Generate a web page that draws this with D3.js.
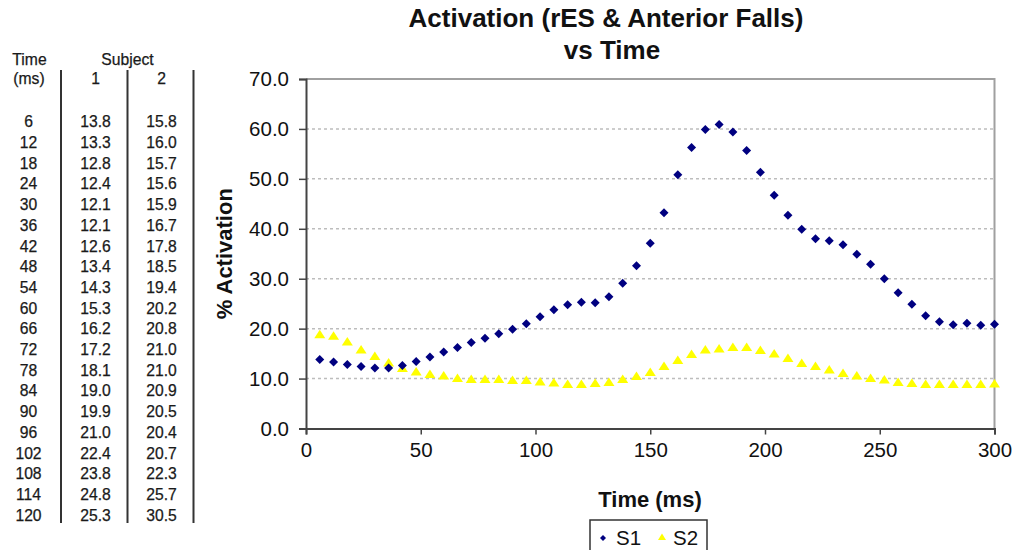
<!DOCTYPE html>
<html>
<head>
<meta charset="utf-8">
<script src="https://cdn.jsdelivr.net/npm/d3@7"></script>
<style>
  body { margin: 0; background: #fff; }
  svg text { font-family: "Liberation Sans", Arial, sans-serif; fill: #111; }
  .title { font-weight: bold; font-size: 26px; }
  .unit { font-weight: bold; font-size: 22px; }
  .tick text { font-size: 20.5px; }
  .tbl { font-size: 15.7px; fill: #1a1a1a; stroke: #1a1a1a; stroke-width: 0.25px; }
</style>
</head>
<body>
<div id="svg-container"></div>
<script>
////////////////////////////////////////////////////////////////////
////////////////////////////  Data  ////////////////////////////////
// time in ms, one sample every 6 ms
const time = d3.range(6, 301, 6);

const s1 = [13.8, 13.3, 12.8, 12.4, 12.1, 12.1, 12.6, 13.4, 14.3, 15.3,
  16.2, 17.2, 18.1, 19.0, 19.9, 21.0, 22.4, 23.8, 24.8, 25.3,
  25.2, 26.4, 29.1, 32.6, 37.1, 43.2, 50.8, 56.3, 59.9, 60.9,
  59.4, 55.7, 51.3, 46.7, 42.7, 39.9, 38.0, 37.6, 36.8, 34.9,
  32.9, 30.0, 27.2, 24.9, 22.6, 21.4, 20.8, 21.1, 20.7, 20.9];

const s2 = [18.9, 18.6, 17.4, 15.8, 14.5, 13.2, 12.1, 11.4, 10.9, 10.6,
  10.1, 9.9, 9.9, 9.9, 9.7, 9.7, 9.4, 9.2, 8.9, 8.9,
  9.1, 9.3, 9.9, 10.5, 11.3, 12.5, 13.7, 14.9, 15.8, 16.0,
  16.3, 16.3, 15.7, 15.0, 14.1, 13.1, 12.5, 11.8, 11.1, 10.6,
  10.1, 9.8, 9.3, 9.1, 8.9, 8.9, 8.9, 8.9, 8.9, 9.0];

// side table
const tableTime = [6, 12, 18, 24, 30, 36, 42, 48, 54, 60, 66, 72, 78, 84, 90, 96, 102, 108, 114, 120];
const tableSubj1 = ["13.8", "13.3", "12.8", "12.4", "12.1", "12.1", "12.6", "13.4", "14.3", "15.3",
  "16.2", "17.2", "18.1", "19.0", "19.9", "21.0", "22.4", "23.8", "24.8", "25.3"];
const tableSubj2 = ["15.8", "16.0", "15.7", "15.6", "15.9", "16.7", "17.8", "18.5", "19.4", "20.2",
  "20.8", "21.0", "21.0", "20.9", "20.5", "20.4", "20.7", "22.3", "25.7", "30.5"];

const xTicks = [0, 50, 100, 150, 200, 250, 300];
const yTicks = [0, 10, 20, 30, 40, 50, 60, 70];

////////////////////////////////////////////////////////////////////
////////////////////////////  Init  ////////////////////////////////
const width = 1015;
const height = 550;

const svg = d3.select("#svg-container").append("svg")
  .attr("width", width)
  .attr("height", height);

const plot = { left: 306, right: 994.5, top: 79, bottom: 428.5 };

const xScale = d3.scaleLinear().domain([0, 300]).range([plot.left, plot.right]);
const yScale = d3.scaleLinear().domain([0, 70]).range([plot.bottom, plot.top]);

// grid
svg.append("g")
  .selectAll("line")
  .data(yTicks.filter((d) => d > 0 && d < 70))
  .enter()
  .append("line")
  .attr("x1", plot.left)
  .attr("x2", plot.right)
  .attr("y1", (d) => yScale(d))
  .attr("y2", (d) => yScale(d))
  .attr("stroke", "#bdbdbd")
  .attr("stroke-width", 1.5)
  .attr("stroke-dasharray", "3,3");

// plot area border (top / right)
svg.append("path")
  .attr("d", `M${plot.left},${yScale(70)}H${plot.right}V${plot.bottom}`)
  .attr("fill", "none")
  .attr("stroke", "#a0a0a0")
  .attr("stroke-width", 2);

// axes
const xAxis = d3.axisBottom(xScale).tickValues(xTicks).tickSize(6).tickPadding(8)
  .tickFormat(d3.format("d"));
const yAxis = d3.axisLeft(yScale).tickValues(yTicks).tickSize(7).tickPadding(8)
  .tickFormat(d3.format(".1f"));

const gx = svg.append("g")
  .attr("class", "x-axis")
  .attr("transform", `translate(0,${plot.bottom})`)
  .call(xAxis);

const gy = svg.append("g")
  .attr("class", "y-axis")
  .attr("transform", `translate(${plot.left},0)`)
  .call(yAxis);

[gx, gy].forEach((g) => {
  g.select(".domain").attr("stroke", "#444").attr("stroke-width", 2);
  g.selectAll(".tick line").attr("stroke", "#444").attr("stroke-width", 1.5);
  g.selectAll(".tick text").attr("fill", "#111");
});
gy.selectAll(".tick text").attr("dx", -2);

// markers
const diamond = "M0,-4.5L4.5,0L0,4.5L-4.5,0Z";
const triangle = "M0,-4.5L5.5,4L-5.5,4Z";

svg.append("g")
  .selectAll("path")
  .data(time.map((t, i) => ({ t: t, v: s2[i] })))
  .enter()
  .append("path")
  .attr("d", triangle)
  .attr("transform", (d) => `translate(${xScale(d.t)},${yScale(d.v)})`)
  .attr("fill", "#ffff00");

svg.append("g")
  .selectAll("path")
  .data(time.map((t, i) => ({ t: t, v: s1[i] })))
  .enter()
  .append("path")
  .attr("d", diamond)
  .attr("transform", (d) => `translate(${xScale(d.t)},${yScale(d.v)})`)
  .attr("fill", "#000080");

// titles
svg.append("text")
  .attr("class", "title")
  .attr("x", 606)
  .attr("y", 27)
  .attr("text-anchor", "middle")
  .text("Activation (rES & Anterior Falls)");

svg.append("text")
  .attr("class", "title")
  .attr("x", 612)
  .attr("y", 59)
  .attr("text-anchor", "middle")
  .text("vs Time");

svg.append("text")
  .attr("class", "unit")
  .attr("text-anchor", "middle")
  .attr("transform", `translate(232,${(plot.top + plot.bottom) / 2}) rotate(-90)`)
  .text("% Activation");

svg.append("text")
  .attr("class", "unit")
  .attr("text-anchor", "middle")
  .attr("x", 650)
  .attr("y", 507)
  .text("Time (ms)");

// legend
const legend = svg.append("g").attr("transform", "translate(590,520)");
legend.append("rect")
  .attr("width", 117)
  .attr("height", 34)
  .attr("fill", "#fff")
  .attr("stroke", "#333")
  .attr("stroke-width", 1.5);
legend.append("path").attr("d", "M0,-3L3,0L0,3L-3,0Z").attr("fill", "#000080")
  .attr("transform", "translate(13,18)");
legend.append("text").attr("x", 26).attr("y", 25).style("font-size", "20.5px").text("S1");
legend.append("path").attr("d", "M0,-3.5L4,3L-4,3Z").attr("fill", "#ffff00")
  .attr("transform", "translate(72,17)");
legend.append("text").attr("x", 83).attr("y", 25).style("font-size", "20.5px").text("S2");

////////////////////////////////////////////////////////////////////
////////////////////////////  Table  ///////////////////////////////
const rowY = d3.scaleLinear().domain([0, 19]).range([127.3, 520.7]);
const colX = [28.5, 95.5, 161.5];

const tbl = svg.append("g");
tbl.append("text").attr("class", "tbl").attr("x", 29.5).attr("y", 65).attr("text-anchor", "middle").text("Time");
tbl.append("text").attr("class", "tbl").attr("x", 29).attr("y", 84).attr("text-anchor", "middle").text("(ms)");
tbl.append("text").attr("class", "tbl").attr("x", 127.5).attr("y", 65).attr("text-anchor", "middle").text("Subject");
tbl.append("text").attr("class", "tbl").attr("x", colX[1]).attr("y", 84).attr("text-anchor", "middle").text("1");
tbl.append("text").attr("class", "tbl").attr("x", colX[2]).attr("y", 84).attr("text-anchor", "middle").text("2");

[tableTime, tableSubj1, tableSubj2].forEach((col, c) => {
  tbl.selectAll(null)
    .data(col)
    .enter()
    .append("text")
    .attr("class", "tbl")
    .attr("x", colX[c])
    .attr("y", (d, i) => rowY(i))
    .attr("text-anchor", "middle")
    .text((d) => d);
});

tbl.selectAll("line")
  .data([61, 127.5, 193.5])
  .enter()
  .append("line")
  .attr("x1", (d) => d)
  .attr("x2", (d) => d)
  .attr("y1", 70)
  .attr("y2", 523)
  .attr("stroke", "#333")
  .attr("stroke-width", 2);
</script>
</body>
</html>
